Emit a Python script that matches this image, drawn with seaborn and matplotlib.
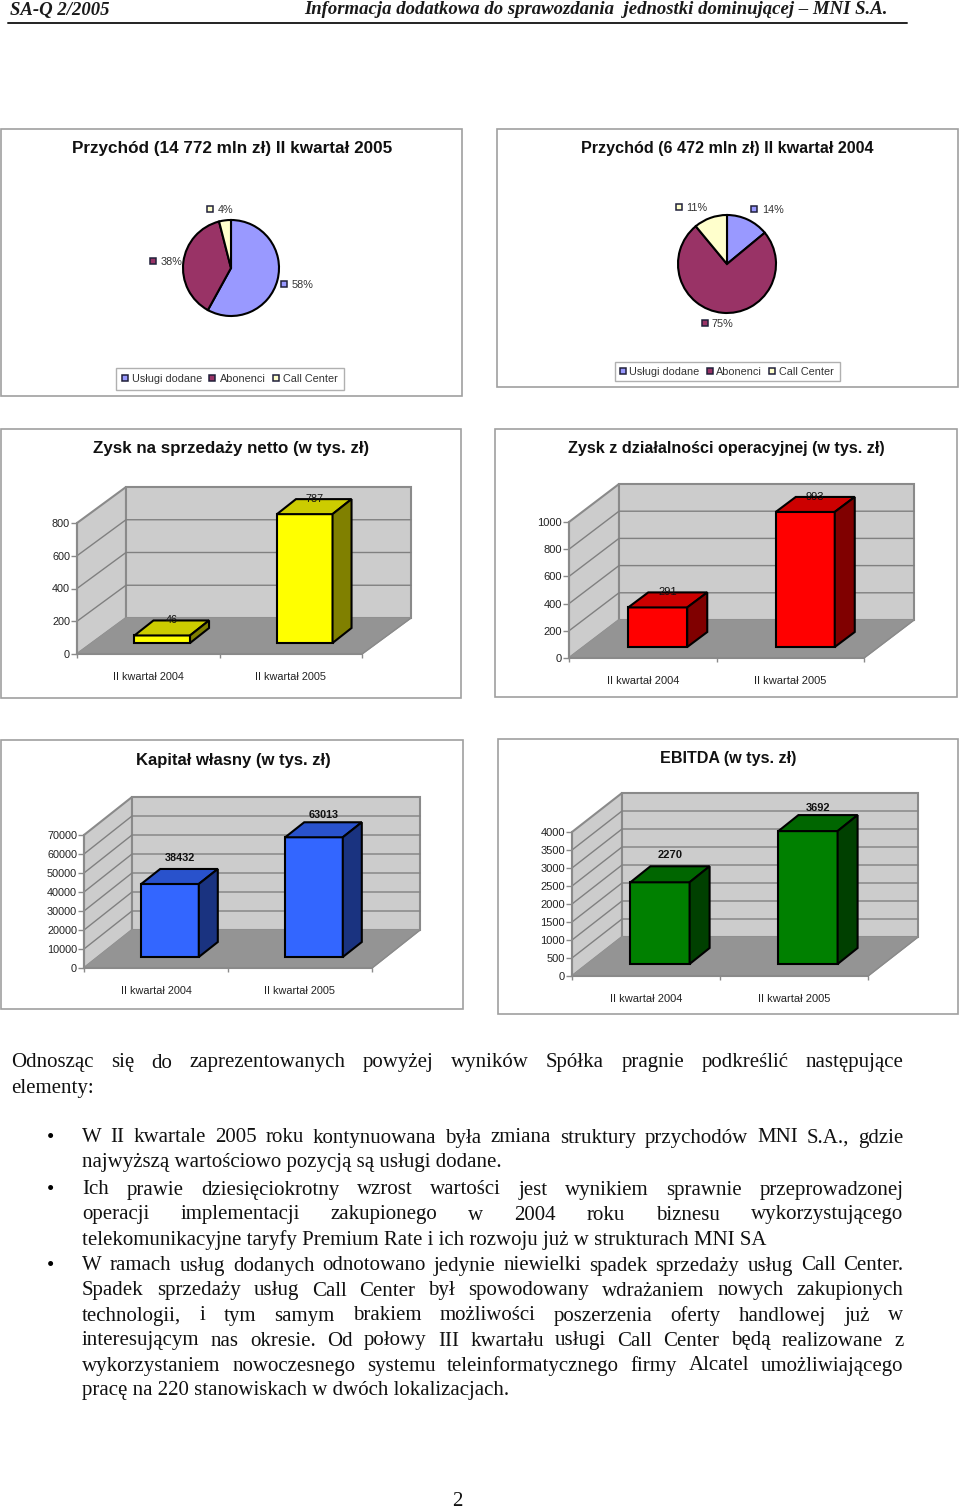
import matplotlib
matplotlib.use('Agg')
import matplotlib.pyplot as plt
import seaborn as sns
from matplotlib.patches import Polygon, Rectangle

# pie data
pie_names = ['Usługi dodane', 'Abonenci', 'Call Center']
pie_2005 = [58, 38, 4]
pie_2004 = [14, 75, 11]

# bar data
quarters = ['II kwartał 2004', 'II kwartał 2005']
zysk_sprzedaz = [46, 787]
zysk_oper = [291, 993]
kapital = [38432, 63013]
ebitda = [2270, 3692]
ticks_sprzedaz = [0, 200, 400, 600, 800]
ticks_oper = [0, 200, 400, 600, 800, 1000]
ticks_kapital = [0, 10000, 20000, 30000, 40000, 50000, 60000, 70000]
ticks_ebitda = [0, 500, 1000, 1500, 2000, 2500, 3000, 3500, 4000]

body_lines = [
    (1063, 11, 'Odnosząc się do zaprezentowanych powyżej wyników Spółka pragnie podkreślić następujące', True),
    (1088, 11, 'elementy:', False),
    (1138, 82, 'W II kwartale 2005 roku kontynuowana była zmiana struktury przychodów MNI S.A., gdzie', True),
    (1163, 82, 'najwyższą wartościowo pozycją są usługi dodane.', False),
    (1190, 82, 'Ich prawie dziesięciokrotny wzrost wartości jest wynikiem sprawnie przeprowadzonej', True),
    (1215, 82, 'operacji implementacji zakupionego w 2004 roku biznesu wykorzystującego', True),
    (1240, 82, 'telekomunikacyjne taryfy Premium Rate i ich rozwoju już w strukturach MNI SA', False),
    (1266, 82, 'W ramach usług dodanych odnotowano jedynie niewielki spadek sprzedaży usług Call Center.', True),
    (1291, 82, 'Spadek sprzedaży usług Call Center był spowodowany wdrażaniem nowych zakupionych', True),
    (1316, 82, 'technologii, i tym samym brakiem możliwości poszerzenia oferty handlowej już w', True),
    (1341, 82, 'interesującym nas okresie. Od połowy III kwartału usługi Call Center będą realizowane z', True),
    (1366, 82, 'wykorzystaniem nowoczesnego systemu teleinformatycznego firmy Alcatel umożliwiającego', True),
    (1391, 82, 'pracę na 220 stanowiskach w dwóch lokalizacjach.', False),
]

pie_colors = ['#9999FF', '#993366', '#FFFFCC']
W, H = 960, 1512

sns.set_theme(style='white')
plt.rcParams['font.family'] = ['Liberation Sans', 'DejaVu Sans']

fig = plt.figure(figsize=(W / 100, H / 100), dpi=100)
page = fig.add_axes([0, 0, 1, 1])
page.set_xlim(0, W)
page.set_ylim(H, 0)
page.axis('off')


def px_axes(x0, y0, x1, y1):
    ax = fig.add_axes([x0 / W, 1 - y1 / H, (x1 - x0) / W, (y1 - y0) / H])
    ax.patch.set_visible(False)
    return ax


def frame(x0, y0, x1, y1, title, tx, ty, size=11.6):
    page.add_patch(Rectangle((x0, y0), x1 - x0, y1 - y0, fc='white', ec='#a0a0a0', lw=1.2))
    page.text(tx, ty, title, ha='center', va='center', fontsize=size, fontweight='bold', color='#111111')


def swatch(x, y, color):
    page.plot([x], [y], marker='s', ms=5, mfc=color, mec='#20203a', mew=1.1, ls='none')


def pie_chart(cx, cy, r, values, labels_at, legend_box, legend_at):
    ax = px_axes(cx - r, cy - r, cx + r, cy + r)
    ax.pie(values, colors=pie_colors, startangle=90, counterclock=False, radius=1,
           wedgeprops={'edgecolor': 'black', 'linewidth': 1.5})
    ax.set_xlim(-1, 1)
    ax.set_ylim(-1, 1)
    for i, (mx, tx, y) in enumerate(labels_at):
        swatch(mx, y, pie_colors[i])
        page.text(tx, y + 1, f'{values[i]}%', ha='left', va='center', fontsize=7.8, color='#333333')
    x0, y0, x1, y1 = legend_box
    page.add_patch(Rectangle((x0, y0), x1 - x0, y1 - y0, fc='white', ec='#b0b0b0', lw=1))
    for i, (mx, tx) in enumerate(legend_at):
        swatch(mx, (y0 + y1) / 2 - 1, pie_colors[i])
        page.text(tx, (y0 + y1) / 2 + 0.5, pie_names[i], ha='left', va='center', fontsize=7.8, color='#333333')


def bar_chart(box, depth, values, ticks, colors, lifts, num_size=8, bold=False,
              front=(14, 11), bar_depth=(19, 15), bar_width=0.4):
    x0, y0, x1, y1 = box
    ax = px_axes(x0, y0, x1, y1)
    sns.barplot(x=quarters, y=values, color=colors[0], saturation=1, width=bar_width,
                edgecolor='black', linewidth=1.5, ax=ax)
    bars = list(ax.patches)
    xl, xr = -0.5, 1.5
    ymax = ticks[-1]
    ax.set_xlim(xl, xr)
    ax.set_ylim(0, ymax)
    # pixel sizes to data units
    sx = (xr - xl) / (x1 - x0)
    sy = ymax / (y1 - y0)
    dx, dy = depth[0] * sx, depth[1] * sy

    grey = '#8a8a8a'
    wall = dict(fc='#cccccc', ec=grey, lw=1.5, clip_on=False, zorder=1)
    ax.add_patch(Polygon([(xl, 0), (xl + dx, dy), (xl + dx, ymax + dy), (xl, ymax)], **wall))
    ax.add_patch(Polygon([(xl + dx, dy), (xr + dx, dy), (xr + dx, ymax + dy), (xl + dx, ymax + dy)], **wall))
    for v in ticks[1:-1]:
        ax.plot([xl, xl + dx, xr + dx], [v, v + dy, v + dy], color='#808080', lw=1, clip_on=False, zorder=1.1)
    ax.add_patch(Polygon([(xl, 0), (xr, 0), (xr + dx, dy), (xl + dx, dy)], fc='#949494', ec='#949494',
                         lw=1, clip_on=False, zorder=1.2))
    ax.plot([xr, xr + dx], [0, dy], color=grey, lw=1, clip_on=False, zorder=1.2)

    ox, oy = front[0] * sx, front[1] * sy
    bx, by = bar_depth[0] * sx, bar_depth[1] * sy
    for bar, lift in zip(bars, lifts):
        left = bar.get_x() + ox
        right = left + bar.get_width()
        top = bar.get_height() + oy
        bar.set_x(left)
        bar.set_y(oy)
        bar.set_clip_on(False)
        bar.set_zorder(3)
        edge = dict(ec='black', lw=1.5, clip_on=False, zorder=3, joinstyle='miter')
        ax.add_patch(Polygon([(left, top), (left + bx, top + by), (right + bx, top + by), (right, top)],
                             fc=colors[1], **edge))
        ax.add_patch(Polygon([(right, oy), (right + bx, oy + by), (right + bx, top + by), (right, top)],
                             fc=colors[2], **edge))
        ax.text((left + right + bx) / 2, top + by + lift * sy, f'{bar.get_height():.0f}', ha='center', va='center',
                fontsize=num_size, fontweight='bold' if bold else 'normal', color='#111111', zorder=5, clip_on=False)

    sns.despine(ax=ax)
    for side in ('left', 'bottom'):
        ax.spines[side].set_color(grey)
        ax.spines[side].set_linewidth(1.5)
        ax.spines[side].set_zorder(2)
    ax.set_yticks(ticks)
    ax.set_xticks([0, 1])
    ax.set_xticklabels(quarters)
    ax.set_xticks([-0.5, 0.5, 1.5], minor=True)
    ax.tick_params(axis='y', left=True, length=4, width=1, color=grey, labelsize=num_size, pad=1, labelcolor='#222222')
    ax.tick_params(axis='x', which='major', bottom=False, labelsize=num_size, pad=7, labelcolor='#222222')
    ax.tick_params(axis='x', which='minor', bottom=True, length=3, width=1, color=grey)
    ax.set_xlabel('')
    ax.set_ylabel('')


# header
page.text(10, 10, 'SA-Q 2/2005', ha='left', va='center', family='Liberation Serif', style='italic',
          fontweight='bold', fontsize=13.5, color='#1a1a1a')
page.text(888, 10, 'Informacja dodatkowa do sprawozdania  jednostki dominującej – MNI S.A.', ha='right', va='center',
          family='Liberation Serif', style='italic', fontweight='bold', fontsize=13.5, color='#1a1a1a')
page.plot([8, 907], [22.5, 22.5], color='#222222', lw=1.4)

# pies
frame(1, 129, 462, 396, 'Przychód (14 772 mln zł) II kwartał 2005', 232.5, 149, 12.3)
pie_chart(231, 268, 48, pie_2005, [(284, 292, 284), (153, 161, 261), (210, 218, 209)],
          (116, 368, 344, 390), [(125, 132), (212, 220), (276, 283)])
frame(497, 129, 958, 387, 'Przychód (6 472 mln zł) II kwartał 2004', 727.5, 148, 11.6)
pie_chart(727, 264, 49, pie_2004, [(754, 762, 209), (705, 712, 323), (679, 686, 207)],
          (615, 362, 840, 381), [(623, 629), (710, 716), (772, 779)])

# 3d bars
frame(1, 429, 461, 698, 'Zysk na sprzedaży netto (w tys. zł)', 231, 449, 12.2)
bar_chart((77, 523, 362, 654), (49, 36), zysk_sprzedaz, ticks_sprzedaz,
          ['#FFFF00', '#CCCC00', '#808000'], [0, 0], num_size=7.8, bar_width=0.39)
frame(495, 429, 957, 697, 'Zysk z działalności operacyjnej (w tys. zł)', 726, 449, 11.6)
bar_chart((569, 522, 864, 658), (50, 38), zysk_oper, ticks_oper,
          ['#FF0000', '#CC0000', '#800000'], [0, 0], front=(15, 11), bar_depth=(20, 15))
frame(1, 740, 463, 1009, 'Kapitał własny (w tys. zł)', 233, 760, 12)
bar_chart((84, 835, 372, 968), (48, 38), kapital, ticks_kapital,
          ['#3366FF', '#2952CC', '#1A3380'], [11, 7], num_size=7.8, bold=True)
frame(498, 739, 958, 1014, 'EBITDA (w tys. zł)', 728.5, 759, 11.6)
bar_chart((572, 832, 868, 976), (50, 39), ebitda, ticks_ebitda,
          ['#008000', '#006600', '#004000'], [11, 7], bold=True, front=(14, 12), bar_depth=(20, 16))

# body text
fig.canvas.draw()
renderer = fig.canvas.get_renderer()
serif = dict(family='Liberation Serif', fontsize=15, color='#111111', va='center', ha='left')


def body_line(y, x0, line, justify, x1=903.5):
    if not justify:
        page.text(x0, y, line, **serif)
        return
    words = line.split()
    parts = [page.text(0, y, w, **serif) for w in words]
    widths = [t.get_window_extent(renderer).width for t in parts]
    gap = (x1 - x0 - sum(widths)) / (len(words) - 1)
    x = x0
    for t, w in zip(parts, widths):
        t.set_x(x)
        x += w + gap


for y, x0, line, justify in body_lines:
    body_line(y, x0, line, justify)

for y in (1138, 1190, 1266):
    page.text(51, y, '•', family='Liberation Serif', fontsize=15, color='black', ha='center', va='center')

page.text(457, 1501, '2', family='Liberation Serif', fontsize=15, color='#111111', ha='center', va='center')

fig.savefig('out.png', dpi=100)
